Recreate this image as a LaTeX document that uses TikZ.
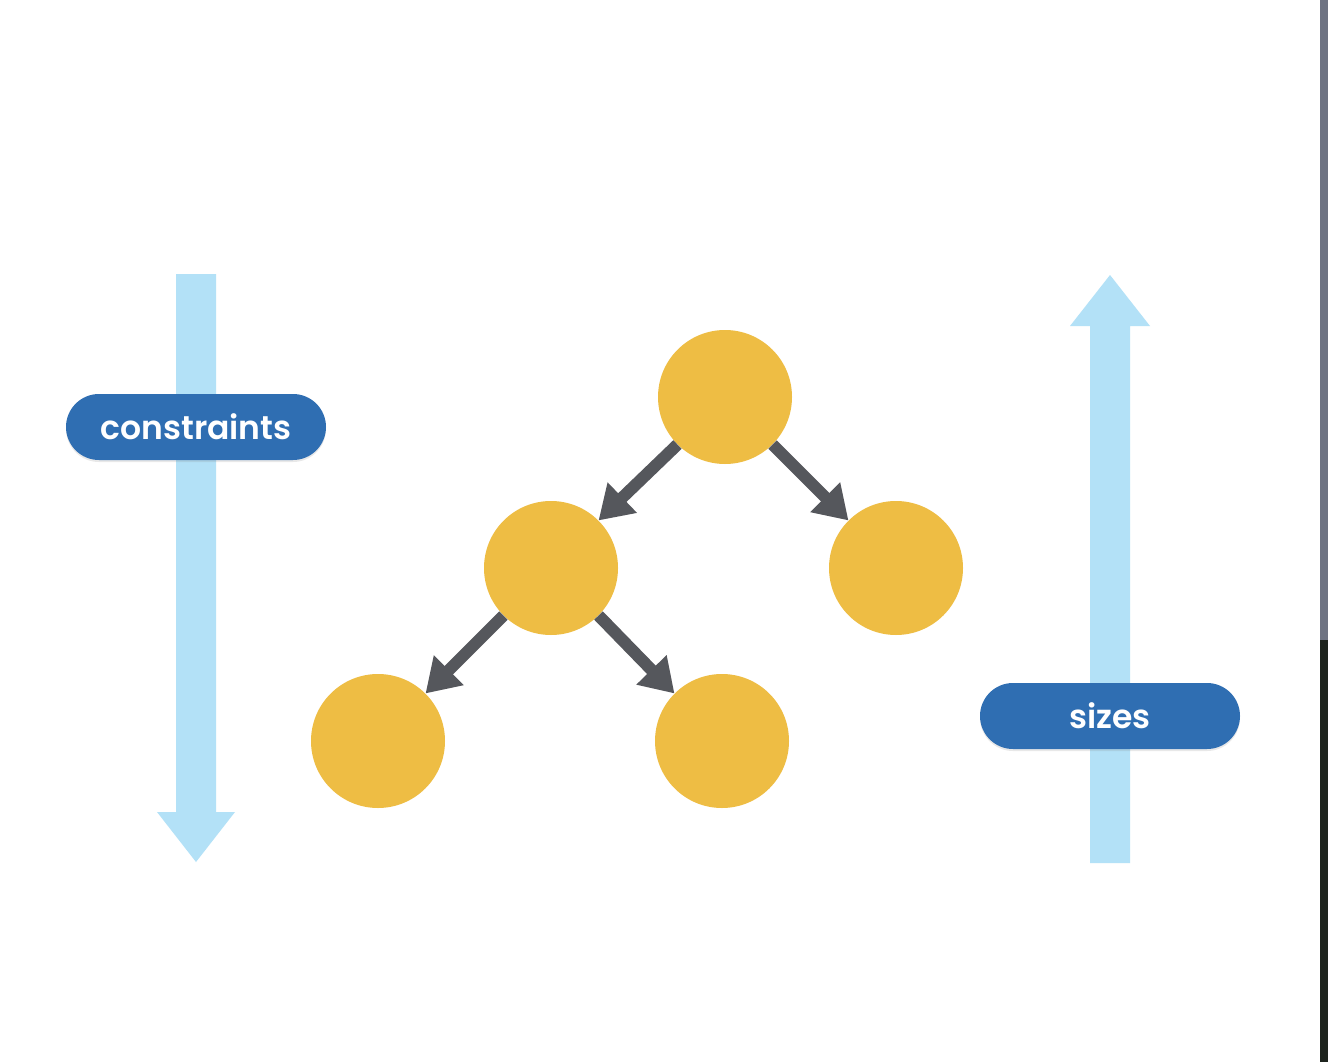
\documentclass[tikz,border=0pt]{standalone}
\usepackage{fontspec}
\setsansfont{Poppins}[BoldFont={Poppins SemiBold}]
\usetikzlibrary{arrows.meta,shadows}
\definecolor{lblue}{HTML}{B3E1F7}
\definecolor{pillblue}{HTML}{2F6EB2}
\definecolor{gold}{HTML}{EEBD44}
\definecolor{darkgray}{HTML}{55575C}
\definecolor{edgegray}{HTML}{6E7382}
\definecolor{edgedark}{HTML}{1E241E}
\tikzset{
  ball/.style={circle, fill=gold, minimum size=134pt, inner sep=0pt},
  pill/.style={rounded corners=33pt, fill=pillblue, minimum width=260pt, minimum height=66pt, text=white, font=\sffamily\bfseries\fontsize{33}{33}\selectfont, inner sep=0pt,
    drop shadow={opacity=0.18, shadow xshift=0pt, shadow yshift=-2pt}},
  treearrow/.style={draw=darkgray, line width=12pt, -{Triangle[length=33pt,width=40pt]}},
  bigarrow/.style={fill=lblue}
}
\begin{document}
\begin{tikzpicture}[x=1pt,y=-1pt]
\useasboundingbox (0,0) rectangle (1328,1062);
\fill[white] (0,0) rectangle (1328,1062);
% right edge strip
\fill[edgegray] (1320,0) rectangle (1328,640);
\fill[edgedark] (1320,640) rectangle (1328,1062);
% big light-blue arrows
\fill[bigarrow] (176,274) -- (216,274) -- (216,812) -- (235,812) -- (196,862) -- (157,812) -- (176,812) -- cycle;
\fill[bigarrow] (1090,863) -- (1130,863) -- (1130,326) -- (1150,326) -- (1110,275) -- (1070,326) -- (1090,326) -- cycle;
% pills
\node[pill] (constraints) at (196,427) {constraints};
\node[pill] (sizes) at (1110,716) {sizes};
% tree
\node[ball] (top) at (725,397) {};
\node[ball] (midl) at (551,568) {};
\node[ball] (midr) at (896,568) {};
\node[ball] (botl) at (378,741) {};
\node[ball] (botr) at (722,741) {};
\draw[treearrow] (top.-135) -- (midl.45);
\draw[treearrow] (top.-45) -- (midr.135);
\draw[treearrow] (midl.-135) -- (botl.45);
\draw[treearrow] (midl.-45) -- (botr.135);
\end{tikzpicture}
\end{document}
